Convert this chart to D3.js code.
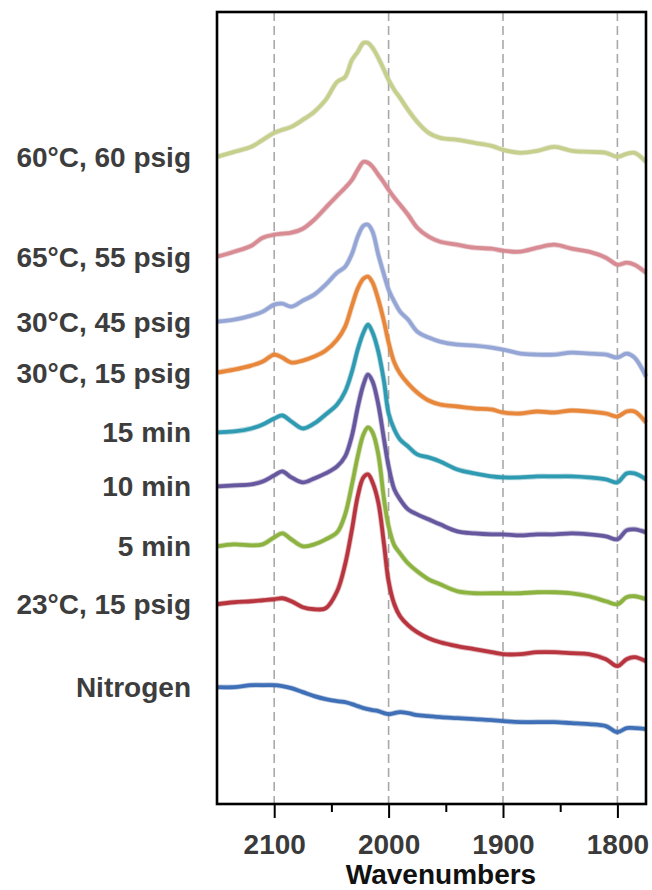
<!DOCTYPE html>
<html>
<head>
<meta charset="utf-8">
<script src="https://cdn.jsdelivr.net/npm/d3@7"></script>
<style>
  body { margin: 0; background: #fff; }
  svg { display: block; font-family: "Liberation Sans", Arial, sans-serif; }
</style>
</head>
<body>
<div class="mainContainer"></div>
<script>
// wavenumbers (cm-1) sampled across the plotted window
var wavenumbers = [2150, 2135, 2120, 2110, 2100, 2093, 2085, 2075, 2065, 2055,
	2045, 2038, 2032, 2027, 2022, 2018, 2014, 2009, 2004, 2000,
	1995, 1990, 1983, 1975, 1965, 1955, 1940, 1925, 1910, 1900,
	1885, 1870, 1855, 1840, 1825, 1810, 1800, 1792, 1785, 1775];

// offset-stacked absorbance (a.u. x1000), bottom to top
var nitrogen = [117, 117, 119, 119, 119, 118, 116, 112, 108, 105, 103, 102, 100, 98, 96, 95, 94, 93, 91, 90,
	91, 92, 91, 89, 88, 87, 86, 85, 84, 83, 82, 82, 82, 81, 80, 78, 72, 76, 76, 75];
var c23p15 = [200, 202, 203, 204, 205, 206, 203, 197, 195, 196, 213, 240, 275, 308, 327, 330, 322, 302, 260, 223,
	200, 188, 179, 172, 166, 162, 158, 155, 152, 150, 150, 152, 152, 151, 150, 145, 138, 145, 147, 143];
var min5 = [258, 260, 259, 260, 267, 271, 265, 258, 260, 265, 272, 290, 320, 348, 370, 377, 372, 350, 305, 278,
	259, 251, 241, 233, 225, 220, 213, 211, 211, 211, 211, 212, 212, 211, 208, 203, 200, 207, 208, 205];
var min10 = [318, 319, 320, 323, 329, 333, 327, 322, 326, 331, 338, 348, 369, 397, 420, 430, 423, 400, 365, 338,
	315, 305, 295, 290, 285, 280, 273, 271, 270, 270, 269, 270, 270, 271, 270, 268, 265, 274, 275, 272];
var min15 = [372, 373, 376, 380, 386, 389, 383, 376, 381, 390, 400, 413, 433, 455, 472, 480, 472, 453, 423, 391,
	375, 365, 358, 350, 347, 343, 335, 331, 328, 327, 327, 328, 328, 328, 327, 325, 322, 331, 331, 325];
var c30p15 = [432, 435, 439, 443, 450, 447, 442, 444, 448, 454, 465, 478, 499, 516, 526, 528, 522, 505, 483, 462,
	442, 431, 421, 412, 404, 400, 398, 396, 395, 392, 391, 393, 392, 394, 393, 391, 388, 393, 393, 382];
var c30p45 = [483, 485, 489, 493, 500, 501, 498, 504, 510, 520, 532, 538, 551, 568, 579, 580, 573, 550, 530, 515,
	503, 493, 485, 473, 467, 463, 460, 459, 457, 455, 451, 450, 450, 452, 451, 450, 447, 451, 447, 428];
var c65p55 = [548, 553, 559, 567, 570, 571, 572, 576, 585, 597, 609, 617, 625, 635, 643, 642, 638, 630, 622, 615,
	607, 600, 590, 577, 568, 563, 560, 557, 556, 554, 553, 557, 560, 556, 553, 547, 540, 542, 540, 532];
var c60p60 = [648, 653, 658, 665, 672, 675, 678, 685, 693, 705, 723, 728, 745, 753, 762, 762, 757, 747, 735, 725,
	715, 707, 695, 683, 672, 667, 665, 662, 659, 655, 652, 654, 658, 654, 653, 652, 648, 651, 652, 643];

var seriesNames = ["Nitrogen", "23°C, 15 psig", "5 min", "10 min", "15 min",
	"30°C, 15 psig", "30°C, 45 psig", "65°C, 55 psig", "60°C, 60 psig"];
var seriesValues = [nitrogen, c23p15, min5, min10, min15, c30p15, c30p45, c65p55, c60p60];
var seriesColors = ["#3f6fb6", "#b8353f", "#8cb23f", "#66579e", "#2f9bb2",
	"#e8873a", "#95a6d6", "#d98b94", "#c6cf8c"];

var majorTicks = [2100, 2000, 1900, 1800];
var minorTicks = [2050, 1950, 1850];

var width = 652, height = 890;
var margin = {left: 217, right: 6, top: 12, bottom: 86};

var svg = d3.select(".mainContainer").append("svg")
	.attr("width", width).attr("height", height);

var x = d3.scaleLinear().domain([2150, 1775]).range([margin.left, width - margin.right]);
var y = d3.scaleLinear().domain([0, 793]).range([height - margin.bottom, margin.top]);

// dashed gridlines
svg.append("g").selectAll("line").data(majorTicks).enter().append("line")
	.attr("x1", d => x(d)).attr("x2", d => x(d))
	.attr("y1", margin.top).attr("y2", height - margin.bottom)
	.style("stroke", "#a9a9a9").style("stroke-width", 1.6).style("stroke-dasharray", "9,5");

// spectra
var line = d3.line()
	.x((d, i) => x(wavenumbers[i]))
	.y(d => y(d))
	.curve(d3.curveCatmullRom.alpha(0.5));

var plot = svg.append("g");
seriesValues.forEach(function(vals, i) {
	plot.append("path").datum(vals)
		.attr("d", line)
		.style("fill", "none")
		.style("stroke", d3.color(seriesColors[i]).darker(0.25))
		.style("stroke-opacity", 0.35)
		.style("stroke-width", 5.5)
		.style("stroke-linejoin", "round");
	plot.append("path").datum(vals)
		.attr("d", line)
		.style("fill", "none")
		.style("stroke", seriesColors[i])
		.style("stroke-width", 3.8)
		.style("stroke-linejoin", "round");
});

// series labels, lined up with each trace's left end
svg.append("g").selectAll("text").data(seriesNames).enter().append("text")
	.attr("x", 191)
	.attr("y", (d, i) => y(seriesValues[i][0]) + 10)
	.attr("text-anchor", "end")
	.style("font-size", "28px").style("font-weight", "bold").style("fill", "#3d3d3d")
	.text(d => d);

// frame
svg.append("rect")
	.attr("x", margin.left).attr("y", margin.top)
	.attr("width", width - margin.left - margin.right)
	.attr("height", height - margin.top - margin.bottom)
	.style("fill", "none").style("stroke", "#000").style("stroke-width", 2.6);

// x axis
var xAxis = svg.append("g").attr("transform", "translate(0," + (height - margin.bottom) + ")")
	.call(d3.axisBottom(x).tickValues(majorTicks).tickSize(14).tickSizeOuter(0).tickFormat(d3.format("d")));
xAxis.select(".domain").remove();
xAxis.selectAll(".tick line").style("stroke", "#000").style("stroke-width", 2);
xAxis.selectAll(".tick text").attr("y", 30)
	.style("font-size", "28px").style("font-weight", "bold").style("fill", "#3a3a3a")
	.style("font-family", "Liberation Sans, Arial, sans-serif");

var xMinor = svg.append("g").attr("transform", "translate(0," + (height - margin.bottom) + ")")
	.call(d3.axisBottom(x).tickValues(minorTicks).tickSize(8).tickSizeOuter(0).tickFormat(""));
xMinor.select(".domain").remove();
xMinor.selectAll(".tick line").style("stroke", "#000").style("stroke-width", 2);

svg.append("text")
	.attr("x", 441).attr("y", 884)
	.attr("text-anchor", "middle")
	.style("font-size", "28px").style("font-weight", "bold").style("fill", "#111")
	.text("Wavenumbers");
</script>
</body>
</html>
